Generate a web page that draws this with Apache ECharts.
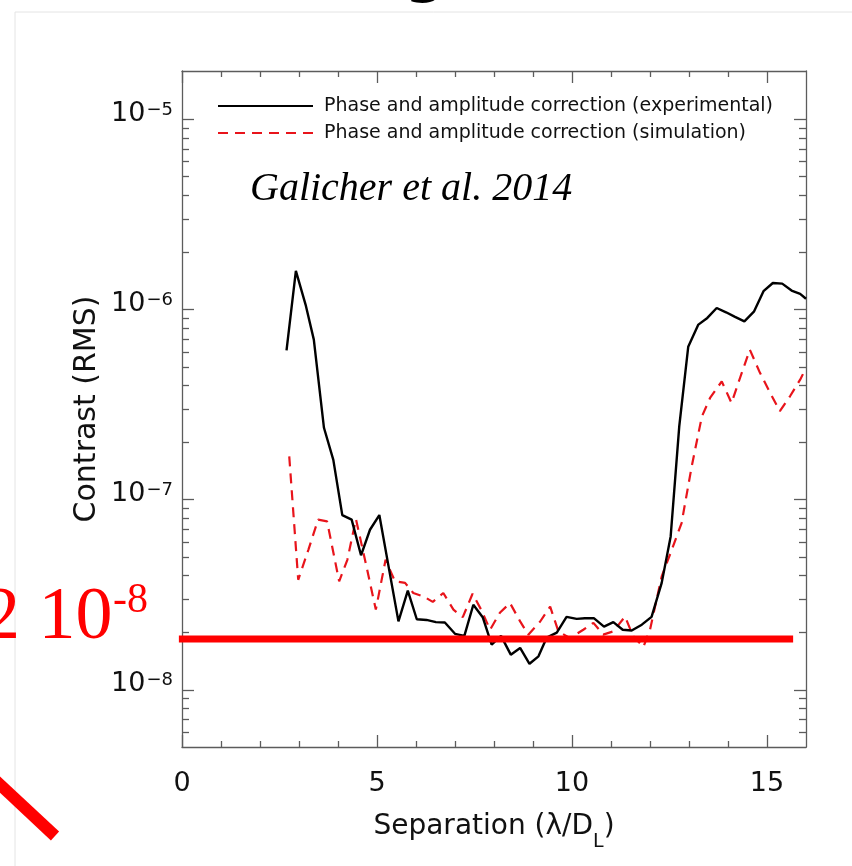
<!DOCTYPE html>
<html>
<head>
<meta charset="utf-8">
<title>Contrast (RMS) vs separation</title>
<script src="https://cdn.jsdelivr.net/npm/echarts@6/dist/echarts.min.js"></script>
<style>
  html, body { margin: 0; padding: 0; background: #fff; }
  #chart { width: 852px; height: 866px; }
</style>
</head>
<body>
<div id="chart"></div>
<script>
// Contrast (RMS) against separation in lambda/D_L.
const expSep = [2.68, 2.92, 3.17, 3.38, 3.64, 3.88, 4.11, 4.35, 4.59, 4.82,
  5.06, 5.31, 5.55, 5.79, 6.02, 6.27, 6.51, 6.74, 7.00, 7.24,
  7.47, 7.71, 7.94, 8.18, 8.43, 8.67, 8.91, 9.14, 9.35, 9.61,
  9.86, 10.12, 10.33, 10.56, 10.82, 11.06, 11.30, 11.53, 11.79, 12.04,
  12.30, 12.53, 12.75, 12.98, 13.24, 13.47, 13.71, 13.95, 14.18, 14.42,
  14.67, 14.91, 15.15, 15.39, 15.63, 15.85, 16.0];
const expContrast = [6.1e-7, 1.6e-6, 1.06e-6, 6.95e-7, 2.39e-7, 1.62e-7, 8.3e-8, 7.85e-8, 5.1e-8, 6.95e-8,
  8.3e-8, 4.3e-8, 2.29e-8, 3.32e-8, 2.35e-8, 2.33e-8, 2.27e-8, 2.26e-8, 1.97e-8, 1.92e-8,
  2.8e-8, 2.41e-8, 1.73e-8, 1.92e-8, 1.53e-8, 1.66e-8, 1.37e-8, 1.5e-8, 1.88e-8, 2.0e-8,
  2.42e-8, 2.36e-8, 2.38e-8, 2.38e-8, 2.15e-8, 2.27e-8, 2.07e-8, 2.05e-8, 2.2e-8, 2.42e-8,
  3.65e-8, 6.41e-8, 2.43e-7, 6.37e-7, 8.34e-7, 9.04e-7, 1.02e-6, 9.68e-7, 9.16e-7, 8.68e-7,
  9.79e-7, 1.25e-6, 1.38e-6, 1.37e-6, 1.26e-6, 1.21e-6, 1.14e-6];

const simSep = [2.75, 2.98, 3.24, 3.49, 3.72, 4.03, 4.24, 4.46, 4.72, 4.97,
  5.22, 5.46, 5.72, 5.93, 6.19, 6.43, 6.70, 6.96, 7.20, 7.45,
  7.67, 7.90, 8.15, 8.41, 8.67, 8.88, 9.18, 9.44, 9.65, 9.95,
  10.29, 10.55, 10.80, 11.06, 11.36, 11.57, 11.83, 12.00, 12.30, 12.56,
  12.81, 13.07, 13.33, 13.54, 13.84, 14.09, 14.31, 14.56, 14.82, 15.08,
  15.33, 15.59, 15.85, 16.0];
const simContrast = [1.69e-7, 3.79e-8, 5.45e-8, 7.85e-8, 7.69e-8, 3.72e-8, 4.83e-8, 7.91e-8, 4.55e-8, 2.64e-8,
  4.83e-8, 3.72e-8, 3.65e-8, 3.23e-8, 3.10e-8, 2.90e-8, 3.23e-8, 2.64e-8, 2.41e-8, 3.20e-8,
  2.64e-8, 2.07e-8, 2.54e-8, 2.86e-8, 2.29e-8, 1.95e-8, 2.28e-8, 2.74e-8, 2.03e-8, 1.87e-8,
  2.07e-8, 2.25e-8, 1.95e-8, 2.03e-8, 2.43e-8, 1.91e-8, 1.68e-8, 2.07e-8, 3.95e-8, 5.46e-8,
  7.54e-8, 1.50e-7, 2.74e-7, 3.43e-7, 4.19e-7, 3.23e-7, 4.38e-7, 6.15e-7, 4.65e-7, 3.65e-7,
  2.92e-7, 3.50e-7, 4.28e-7, 4.93e-7];

// the thick red "2 10^-8" goal line drawn over the slide
const goalLevel = 1.85e-8;
const goalSpan = [-0.08, 15.67];

const seriesNames = ['Phase and amplitude correction (experimental)',
  'Phase and amplitude correction (simulation)'];

const xRange = [0, 16];
const xMajor = [0, 5, 10, 15];
const xMinor = [1, 2, 3, 4, 6, 7, 8, 9, 11, 12, 13, 14];
const yRange = [5e-9, 1.8e-5];
const yDecades = [1e-8, 1e-7, 1e-6, 1e-5];
const yMinorMult = [2, 3, 4, 5, 6, 7, 8, 9];

// IDL-style box ticks live on helper value axes laid out in log10 units;
// the curves themselves sit on the real log axis (same span, same pixels).
const lg = Math.log10;
const expRange = yRange.map(lg);
const yMajorExp = yDecades.map(lg);
const yMinorExp = [];
[1e-9, ...yDecades].forEach(d => yMinorMult.forEach(m => {
  const v = lg(m * d);
  if (v > expRange[0] && v < expRange[1]) yMinorExp.push(v);
}));

const FONT = '"DejaVu Sans", sans-serif';
const AXIS = '#5c5c5c';
const RED = '#ff0000';
const DASH_RED = '#e8141b';

function xAxisDef(position, ticks, len, opts) {
  return Object.assign({
    type: 'value', min: xRange[0], max: xRange[1], position,
    axisLine: { show: false, onZero: false, lineStyle: { color: AXIS, width: 1.3 } },
    axisTick: { show: true, inside: true, length: len, customValues: ticks, lineStyle: { color: AXIS, width: 1.3 } },
    axisLabel: { show: false },
    splitLine: { show: false },
  }, opts);
}
function yAxisDef(position, ticks, len, opts) {
  return Object.assign({
    type: 'value', min: expRange[0], max: expRange[1], position,
    axisLine: { show: false, onZero: false, lineStyle: { color: AXIS, width: 1.3 } },
    axisTick: { show: true, inside: true, length: len, customValues: ticks, lineStyle: { color: AXIS, width: 1.3 } },
    axisLabel: { show: false },
    splitLine: { show: false },
  }, opts);
}

const chart = echarts.init(document.getElementById('chart'), null, { renderer: 'canvas' });
chart.setOption({
  animation: false,
  backgroundColor: '#fff',
  grid: { left: 182, right: 46, top: 71, bottom: 119, outerBoundsMode: 'none' },
  legend: {
    data: seriesNames,
    orient: 'vertical',
    left: 212, top: 90,
    itemWidth: 95, itemHeight: 14, itemGap: 5,
    selectedMode: false,
    itemStyle: { opacity: 0, borderWidth: 0 },   // line-only keys, no marker dot
    textStyle: { fontFamily: FONT, fontSize: 19, color: '#111', lineHeight: 22, padding: [0, 0, 0, 6] },
  },
  xAxis: [
    xAxisDef('bottom', xMajor, 12, {
      axisLine: { show: true, onZero: false, lineStyle: { color: AXIS, width: 1.3 } },
      axisLabel: { show: true, customValues: xMajor, margin: 23, fontFamily: FONT, fontSize: 27, color: '#111' },
      name: '{a|Separation (λ/D}{l|L}{a|)}',
      nameLocation: 'middle',
      nameGap: 66,
      nameTextStyle: {
        rich: {
          a: { fontFamily: FONT, fontSize: 28, color: '#111', lineHeight: 30, verticalAlign: 'top' },
          l: { fontFamily: FONT, fontSize: 19, color: '#111', lineHeight: 19, padding: [20, 0, 0, 0], verticalAlign: 'top' },
        },
      },
    }),
    xAxisDef('bottom', xMinor, 6),
    xAxisDef('top', xMajor, 12, { axisLine: { show: true, onZero: false, lineStyle: { color: AXIS, width: 1.3 } } }),
    xAxisDef('top', xMinor, 6),
  ],
  yAxis: [
    {
      type: 'log', logBase: 10, min: yRange[0], max: yRange[1], position: 'left',
      axisLine: { show: true, onZero: false, lineStyle: { color: AXIS, width: 1.3 } },
      axisTick: { show: false },
      axisLabel: { show: false },
      splitLine: { show: false },
      name: 'Contrast (RMS)',
      nameLocation: 'middle',
      nameGap: 80,
      nameTextStyle: { fontFamily: FONT, fontSize: 30, color: '#111' },
    },
    yAxisDef('left', yMajorExp, 12, {
      axisLabel: {
        show: true, customValues: yMajorExp, margin: 9, padding: [0, 0, 10, 0],
        formatter: v => `{b|10}{s|−${Math.round(-v)}}`,
        rich: {
          b: { fontFamily: FONT, fontSize: 27, color: '#111', lineHeight: 26, verticalAlign: 'bottom' },
          s: { fontFamily: FONT, fontSize: 18, color: '#111', lineHeight: 18, padding: [0, 0, 14, 1], verticalAlign: 'top' },
        },
      },
    }),
    yAxisDef('left', yMinorExp, 7),
    yAxisDef('right', yMajorExp, 12, { axisLine: { show: true, onZero: false, lineStyle: { color: AXIS, width: 1.3 } } }),
    yAxisDef('right', yMinorExp, 7),
  ],
  series: [
    {
      name: seriesNames[0], type: 'line', xAxisIndex: 0, yAxisIndex: 0,
      data: expSep.map((x, i) => [x, expContrast[i]]),
      symbol: 'none', z: 3,
      lineStyle: { color: '#000', width: 2.4 }, itemStyle: { color: '#000' },
    },
    {
      name: seriesNames[1], type: 'line', xAxisIndex: 0, yAxisIndex: 0,
      data: simSep.map((x, i) => [x, simContrast[i]]),
      symbol: 'none', z: 2,
      lineStyle: { color: DASH_RED, width: 2.2, type: [10, 7] }, itemStyle: { color: DASH_RED },
    },
    {
      name: 'goal', type: 'line', xAxisIndex: 0, yAxisIndex: 0,
      data: goalSpan.map(x => [x, goalLevel]),
      symbol: 'none', clip: false, silent: true, z: 6,
      lineStyle: { color: RED, width: 7 },
    },
  ],
  graphic: [
    // slide frame and the clipped title above the figure
    { type: 'line', silent: true, shape: { x1: 15, y1: 12, x2: 852, y2: 12 }, style: { stroke: '#e4e4e4', lineWidth: 1 } },
    { type: 'line', silent: true, shape: { x1: 15, y1: 12, x2: 15, y2: 866 }, style: { stroke: '#e4e4e4', lineWidth: 1 } },
    { type: 'text', silent: true, x: 425, y: -24, style: { text: 'g', font: 'bold 56px "DejaVu Sans"', fill: '#000', align: 'center', verticalAlign: 'middle' } },
    { type: 'text', silent: true, x: 250, y: 189, style: { text: 'Galicher et al. 2014', font: 'italic 40px "Liberation Serif"', fill: '#000', verticalAlign: 'middle' } },
    // red hand annotations
    { type: 'text', silent: true, x: -17, y: 619, style: { text: '2 10', font: '74px "Liberation Serif"', fill: RED, verticalAlign: 'middle' } },
    { type: 'text', silent: true, x: 113, y: 601, style: { text: '-8', font: '42px "Liberation Serif"', fill: RED, verticalAlign: 'middle' } },
    { type: 'line', silent: true, shape: { x1: -20, y1: 766, x2: 55, y2: 836 }, style: { stroke: RED, lineWidth: 12 } },
  ],
});
</script>
</body>
</html>
